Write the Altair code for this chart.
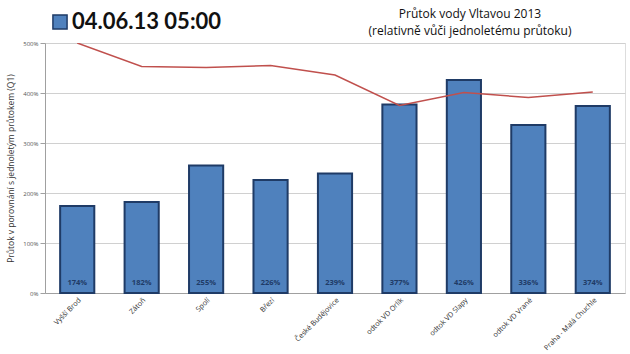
import altair as alt
import pandas as pd

stations = ["Vyšší Brod", "Zátoň", "Spolí", "Březí", "České Budějovice",
            "odtok VD Orlík", "odtok VD Slapy", "odtok VD Vrané", "Praha - Malá Chuchle"]
flow_pct = [174, 182, 255, 226, 239, 377, 426, 336, 374]
line_pct = [500, 453, 451, 455, 436, 375, 401, 391, 402]
series_name = "04.06.13 05:00"
y_tick_values = [0, 100, 200, 300, 400, 500]

df = pd.DataFrame({
    "station": stations,
    "flow": flow_pct,
    "line": line_pct,
    "series": [series_name] * len(stations),
    "label": [f"{v}%" for v in flow_pct],
})

FONT = "Open Sans"
x_enc = alt.X("station:N", sort=stations, scale=alt.Scale(paddingInner=0.47, paddingOuter=0.235),
              axis=alt.Axis(title=None, labelAngle=-45, labelAlign="right", labelBaseline="top",
                            labelFontSize=7.2, labelColor="#333333", labelFont=FONT,
                            ticks=False, domainColor="#A0A0A0", labelPadding=3))
y_scale = alt.Scale(domain=[0, 500], nice=False)

bars = alt.Chart(df).mark_bar(stroke="#1F3B66", strokeWidth=2).encode(
    x=x_enc,
    y=alt.Y("flow:Q", scale=y_scale,
            axis=alt.Axis(title="Průtok v porovnání s jednoletým průtokem (Q1)", values=y_tick_values,
                          labelExpr="datum.value + '%'",
                          labelFontSize=6, labelColor="#555555",
                          titleFontSize=8.5, titleFontWeight="normal", titleColor="#333333",
                          titleFont=FONT, labelFont=FONT, titlePadding=7,
                          gridColor="#D0D0D0", tickSize=5,
                          domainColor="#A0A0A0", tickColor="#A0A0A0")),
    color=alt.Color("series:N", scale=alt.Scale(range=["#4F81BD"]),
                    legend=alt.Legend(title=None, orient="none", legendX=4, legendY=-32,
                                      symbolType="square", symbolSize=200, symbolStrokeColor="#1F3B66",
                                      symbolStrokeWidth=1.5, symbolFillColor="#4F81BD",
                                      labelFontSize=22, labelFontWeight="bold", labelFont="Lato",
                                      labelColor="#111111", labelOffset=1)),
)

labels = alt.Chart(df).mark_text(dy=-10, fontSize=7.5, fontWeight="bold", color="#1F3B66", font=FONT).encode(
    x=alt.X("station:N", sort=stations),
    y=alt.Y(datum=0, scale=y_scale),
    text="label:N",
)

line = alt.Chart(df).mark_line(color="#C0504D", strokeWidth=1.5, clip=True).encode(
    x=alt.X("station:N", sort=stations),
    y=alt.Y("line:Q", scale=y_scale),
)

chart = alt.layer(bars, labels, line).properties(
    width=580, height=250,
    title=alt.Title(["Průtok vody Vltavou 2013", "(relativně vůči jednoletému průtoku)"],
                    anchor="middle", dx=135, fontSize=12, fontWeight="normal", font=FONT,
                    color="#111111", lineHeight=17, offset=-27),
    autosize=alt.AutoSizeParams(type="none"),
    padding={"left": 45, "top": 43, "right": 5, "bottom": 61},
).configure_view(stroke=None).configure(background="white")

chart.save("out.html", embed_options={"renderer": "svg", "actions": False})
